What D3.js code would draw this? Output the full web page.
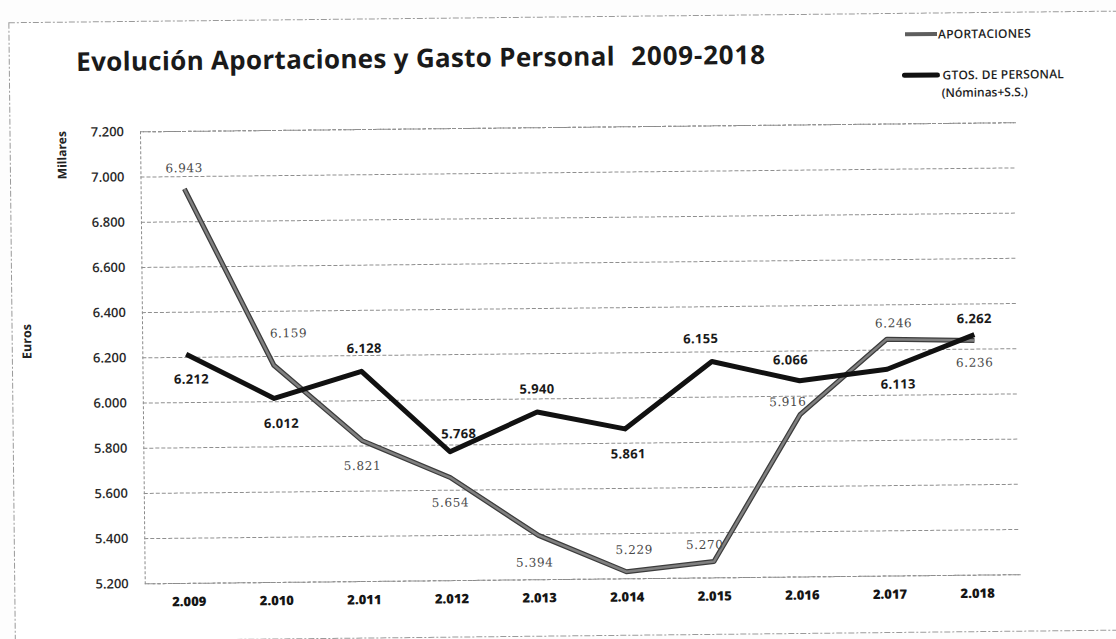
<!DOCTYPE html>
<html>
<head>
<meta charset="utf-8">
<script src="https://cdn.jsdelivr.net/npm/d3@7"></script>
<style>
  html, body { margin: 0; padding: 0; background: #fdfdfd; }
  svg { display: block; }
  text { font-family: "Open Sans", Lato, sans-serif; }
</style>
</head>
<body>
<div id="chart"></div>
<script>

/*********************/
/*       Data        */
/*********************/
const years = ["2.009", "2.010", "2.011", "2.012", "2.013", "2.014", "2.015", "2.016", "2.017", "2.018"];
const aportaciones = [6943, 6159, 5821, 5654, 5394, 5229, 5270, 5916, 6246, 6236];
const gastosPersonal = [6212, 6012, 6128, 5768, 5940, 5861, 6155, 6066, 6113, 6262];
const yTicks = [5200, 5400, 5600, 5800, 6000, 6200, 6400, 6600, 6800, 7000, 7200];
const seriesNames = ["APORTACIONES", "GTOS. DE PERSONAL"];


/*******************************/
/*    Declare the constants    */
/*******************************/
const width = 1116;
const height = 639;
const plot = {left: 142, right: 1018, top: 127, bottom: 579};

// label offsets (dx, dy) around each point
const aportOffsets = [[0, -21], [15, -32], [0, 25], [0, 25], [-4, 27], [8, -22], [-9, -17], [-12, -13], [7, -16], [0, 22]];
const gastoOffsets = [[5, 25], [7, 25], [3, -23], [9, -18], [0, -23], [3, 25], [-11, -23], [-9, -21], [11, 15], [0, -16]];

const locale = d3.formatLocale({decimal: ",", thousands: ".", grouping: [3], currency: ["", " €"]});
const fmt = locale.format(",");


/*******************************/
/*    Append the containers    */
/*******************************/
const svg = d3.select("#chart")
  .append("svg")
    .attr("width", width)
    .attr("height", height)
    .attr("viewBox", `0 0 ${width} ${height}`);

svg.append("rect")
    .attr("width", width)
    .attr("height", height)
    .attr("fill", "#fdfdfd");

// the scan is a bit tilted
const page = svg.append("g")
    .attr("transform", "rotate(-0.6, 558, 320)");

// outer dashed frame
page.append("rect")
    .attr("x", 12)
    .attr("y", 17)
    .attr("width", 1130)
    .attr("height", 619)
    .attr("fill", "#ffffff")
    .attr("stroke", "#9a9a9a")
    .attr("stroke-width", 1)
    .attr("stroke-dasharray", "6,2,2,2");


/****************************/
/*    Declare the scales    */
/****************************/
const xScale = d3.scalePoint()
  .domain(years)
  .range([plot.left, plot.right])
  .padding(0.5);

const yScale = d3.scaleLinear()
  .domain([5200, 7200])
  .range([plot.bottom, plot.top]);


/**************************/
/*      Add the axes      */
/**************************/
const leftAxis = d3.axisLeft(yScale)
  .tickValues(yTicks)
  .tickFormat(fmt)
  .tickSize(-(plot.right - plot.left))
  .tickPadding(16);

const gy = page.append("g")
    .attr("transform", `translate(${plot.left}, 0)`)
    .call(leftAxis);
gy.select(".domain")
    .attr("stroke", "#8a8a8a")
    .attr("stroke-dasharray", "3,2");
gy.selectAll(".tick line")
    .attr("stroke", "#8f8f8f")
    .attr("stroke-dasharray", "4,2");
gy.selectAll(".tick text")
    .attr("fill", "#2a2a2a")
    .style("font-size", "13px")
    .style("font-weight", "600");

const bottomAxis = d3.axisBottom(xScale)
  .tickSize(0)
  .tickPadding(14);

const gx = page.append("g")
    .attr("transform", `translate(0, ${plot.bottom})`)
    .call(bottomAxis);
gx.select(".domain").remove();
gx.selectAll(".tick text")
    .attr("fill", "#151515")
    .style("font-size", "13px")
    .style("font-weight", "800");

// axis titles
page.append("text")
    .attr("transform", "translate(68, 150) rotate(-90)")
    .attr("text-anchor", "middle")
    .attr("fill", "#222")
    .style("font-size", "12px")
    .style("font-weight", "700")
    .text("Millares");

page.append("text")
    .attr("transform", "translate(31, 336) rotate(-90)")
    .attr("text-anchor", "middle")
    .attr("fill", "#222")
    .style("font-size", "12.5px")
    .style("font-weight", "700")
    .text("Euros");


/*******************************/
/*        Title & legend       */
/*******************************/
page.append("text")
    .attr("x", 79)
    .attr("y", 66)
    .attr("fill", "#1a1a1a")
    .style("font-size", "26px")
    .style("font-weight", "700")
    .style("letter-spacing", "0.3px")
    .text("Evolución Aportaciones y Gasto Personal");

page.append("text")
    .attr("x", 634)
    .attr("y", 66)
    .attr("fill", "#1a1a1a")
    .style("font-size", "26px")
    .style("font-weight", "700")
    .style("letter-spacing", "0.8px")
    .text("2009-2018");

const legend = page.append("g");
legend.append("line")
    .attr("x1", 908).attr("x2", 940)
    .attr("y1", 38).attr("y2", 38)
    .attr("stroke", "#5e5e5e")
    .attr("stroke-width", 4);
legend.append("text")
    .attr("x", 941)
    .attr("y", 42.5)
    .attr("fill", "#1e1e1e")
    .style("font-size", "12px")
    .style("font-weight", "600")
    .style("letter-spacing", "0.2px")
    .text(seriesNames[0]);

legend.append("line")
    .attr("x1", 907).attr("x2", 940)
    .attr("y1", 79).attr("y2", 79)
    .attr("stroke", "#111")
    .attr("stroke-width", 5)
    .attr("stroke-linecap", "round");
legend.append("text")
    .attr("x", 945)
    .attr("y", 83.5)
    .attr("fill", "#1e1e1e")
    .style("font-size", "12px")
    .style("font-weight", "600")
    .style("letter-spacing", "0.2px")
    .text(seriesNames[1]);
legend.append("text")
    .attr("x", 944)
    .attr("y", 101)
    .attr("fill", "#1e1e1e")
    .style("font-size", "12px")
    .style("font-weight", "600")
    .text("(Nóminas+S.S.)");


/*******************************/
/*      Append the shapes      */
/*******************************/
const lineGenerator = d3.line()
  .x((d, i) => xScale(years[i]))
  .y(d => yScale(d));

// Aportaciones: grey line with a darker rim (scanned look)
page.append("path")
    .attr("d", lineGenerator(aportaciones))
    .attr("fill", "none")
    .attr("stroke", "#3c3c3c")
    .attr("stroke-width", 5)
    .attr("stroke-linejoin", "round");
page.append("path")
    .attr("d", lineGenerator(aportaciones))
    .attr("fill", "none")
    .attr("stroke", "#808080")
    .attr("stroke-width", 2.5)
    .attr("stroke-linejoin", "round");

page.append("path")
    .attr("d", lineGenerator(gastosPersonal))
    .attr("fill", "none")
    .attr("stroke", "#111")
    .attr("stroke-width", 5)
    .attr("stroke-linejoin", "round");


/*******************************/
/*        Data labels          */
/*******************************/
page.append("g")
  .selectAll("text")
  .data(aportaciones)
  .join("text")
    .attr("x", (d, i) => xScale(years[i]) + aportOffsets[i][0])
    .attr("y", (d, i) => yScale(d) + aportOffsets[i][1])
    .attr("dy", "0.35em")
    .attr("text-anchor", "middle")
    .attr("fill", "#4a4a4a")
    .style("font-family", "'DejaVu Serif', serif")
    .style("font-size", "12px")
    .style("letter-spacing", "0.6px")
    .text(d => fmt(d));

page.append("g")
  .selectAll("text")
  .data(gastosPersonal)
  .join("text")
    .attr("x", (d, i) => xScale(years[i]) + gastoOffsets[i][0])
    .attr("y", (d, i) => yScale(d) + gastoOffsets[i][1])
    .attr("dy", "0.35em")
    .attr("text-anchor", "middle")
    .attr("fill", "#1a1a1a")
    .style("font-size", "13px")
    .style("font-weight", "700")
    .style("letter-spacing", "0.3px")
    .text(d => fmt(d));

</script>
</body>
</html>
